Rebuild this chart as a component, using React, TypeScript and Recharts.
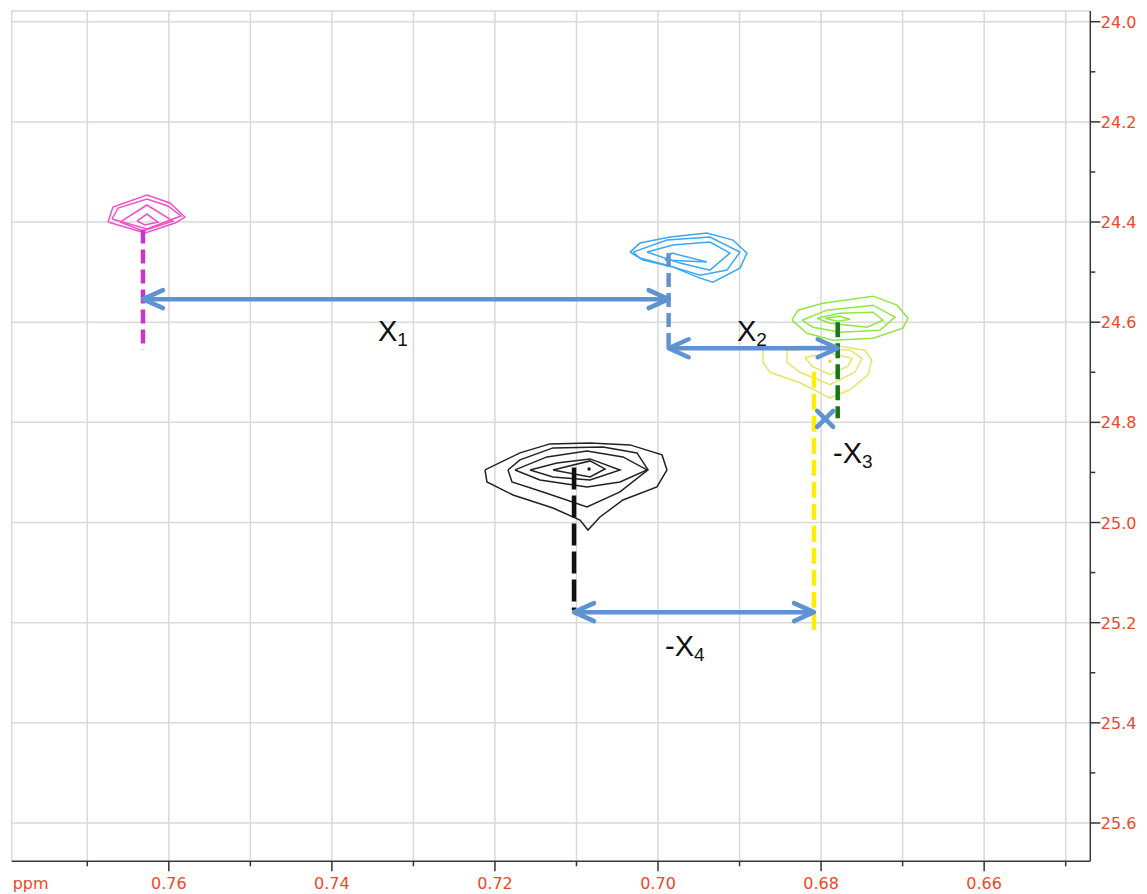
import React from 'react';
import { ComposedChart, Line, XAxis, YAxis, CartesianGrid, ReferenceLine, ReferenceDot } from 'recharts';

// ---- axes ----
const X_DOMAIN: [number, number] = [0.64698, 0.77927];
const Y_DOMAIN: [number, number] = [23.9786, 25.6765];
const X_TICKS = [0.77, 0.76, 0.75, 0.74, 0.73, 0.72, 0.71, 0.70, 0.69, 0.68, 0.67, 0.66, 0.65];
const X_LABELS = ['0.76', '0.74', '0.72', '0.70', '0.68', '0.66'];
const Y_TICKS = [24.0, 24.1, 24.2, 24.3, 24.4, 24.5, 24.6, 24.7, 24.8, 24.9, 25.0, 25.1, 25.2, 25.3, 25.4, 25.5, 25.6];
const Y_LABELS = ['24.0', '24.2', '24.4', '24.6', '24.8', '25.0', '25.2', '25.4', '25.6'];
const Y_GRID = [24.0, 24.2, 24.4, 24.6, 24.8, 25.0, 25.2, 25.4, 25.6];

// ---- contours: [ppm(F2), ppm(F1)] ----
const pink1 = [[0.76746, 24.400], [0.76685, 24.370], [0.76268, 24.346], [0.75986, 24.362], [0.75802, 24.390], [0.75924, 24.402], [0.76292, 24.422]];
const pink2 = [[0.76697, 24.394], [0.76623, 24.372], [0.76268, 24.354], [0.76010, 24.368], [0.75851, 24.388], [0.76268, 24.414]];
const pink3 = [[0.76599, 24.400], [0.76268, 24.366], [0.75949, 24.398], [0.76317, 24.418]];
const pink4 = [[0.76390, 24.398], [0.76268, 24.384], [0.76133, 24.400], [0.76292, 24.406]];

const blue1 = [[0.70344, 24.460], [0.70221, 24.442], [0.69853, 24.430], [0.69399, 24.422], [0.69081, 24.436], [0.68909, 24.462], [0.68995, 24.492], [0.69326, 24.520], [0.69485, 24.512], [0.69816, 24.490], [0.70184, 24.476]];
const blue2 = [[0.70307, 24.460], [0.69890, 24.436], [0.69363, 24.430], [0.68995, 24.460], [0.69154, 24.496], [0.69485, 24.506], [0.69890, 24.486], [0.70221, 24.472]];
const blue3 = [[0.70135, 24.460], [0.69816, 24.446], [0.69363, 24.440], [0.69117, 24.462], [0.69363, 24.496], [0.69731, 24.482]];
const blue4 = [[0.69915, 24.476], [0.69829, 24.462], [0.69399, 24.480]];

const green1 = [[0.68357, 24.596], [0.68283, 24.576], [0.67977, 24.562], [0.67363, 24.548], [0.67069, 24.566], [0.66934, 24.592], [0.66995, 24.612], [0.67363, 24.632], [0.67854, 24.636], [0.68173, 24.622]];
const green2 = [[0.68234, 24.596], [0.67928, 24.576], [0.67363, 24.566], [0.67094, 24.590], [0.67278, 24.616], [0.67768, 24.620], [0.68099, 24.610]];
const green3 = [[0.68050, 24.592], [0.67768, 24.582], [0.67363, 24.580], [0.67241, 24.596], [0.67437, 24.610], [0.67891, 24.602]];
const green4 = [[0.67952, 24.592], [0.67768, 24.588], [0.67646, 24.594], [0.67805, 24.598]];

const yellow1 = [[0.68713, 24.652], [0.68713, 24.680], [0.68627, 24.700], [0.68259, 24.721], [0.67891, 24.751], [0.67646, 24.735], [0.67425, 24.705], [0.67376, 24.676], [0.67462, 24.656], [0.67768, 24.648], [0.68259, 24.648]];
const yellow2 = [[0.68418, 24.656], [0.68418, 24.680], [0.68259, 24.700], [0.67891, 24.725], [0.67584, 24.700], [0.67498, 24.672], [0.67646, 24.656], [0.68013, 24.652]];
const yellow3 = [[0.68198, 24.670], [0.68112, 24.688], [0.67891, 24.705], [0.67670, 24.688], [0.67621, 24.672], [0.67891, 24.662]];

const black1 = [[0.72122, 24.895], [0.72098, 24.919], [0.71779, 24.945], [0.71288, 24.971], [0.70957, 24.995], [0.70859, 25.015], [0.70712, 24.989], [0.70430, 24.955], [0.70013, 24.929], [0.69890, 24.895], [0.69951, 24.865], [0.70344, 24.845], [0.70834, 24.841], [0.71325, 24.843], [0.71693, 24.861]];
const black2 = [[0.71840, 24.895], [0.71791, 24.919], [0.71411, 24.939], [0.70871, 24.969], [0.70466, 24.939], [0.70123, 24.895], [0.70258, 24.861], [0.70675, 24.849], [0.71288, 24.851], [0.71693, 24.875]];
const black3 = [[0.71754, 24.895], [0.71448, 24.915], [0.70871, 24.929], [0.70466, 24.919], [0.70135, 24.895], [0.70430, 24.869], [0.70871, 24.857], [0.71362, 24.869]];
const black4 = [[0.71570, 24.895], [0.71288, 24.909], [0.70834, 24.915], [0.70466, 24.895], [0.70834, 24.873], [0.71239, 24.881]];
const black5 = [[0.71288, 24.895], [0.70834, 24.877], [0.70650, 24.893], [0.70834, 24.909]];

const peakDots = [
  { x: 0.67891, y: 24.678, color: '#e0d850' },
  { x: 0.70846, y: 24.893, color: '#222222' },
];

// ---- guide lines (x, yStart, yEnd) ----
const guides = [
  { x: 0.76317, y1: 24.415, y2: 24.655, color: '#cc33cc', dash: '14 6' },
  { x: 0.69870, y1: 24.462, y2: 24.655, color: '#6394d0', dash: '14 6' },
  { x: 0.67796, y1: 24.600, y2: 24.792, color: '#117a11', dash: '15 6' },
  { x: 0.68087, y1: 24.699, y2: 25.225, color: '#ffee00', dash: '16 6' },
  { x: 0.71030, y1: 24.890, y2: 25.175, color: '#111111', dash: '22 6' },
];

// ---- double arrows (xStart, xEnd, y) ----
const arrows = [
  { x1: 0.76317, x2: 0.69870, y: 24.554 },
  { x1: 0.69870, x2: 0.67796, y: 24.652 },
  { x1: 0.71030, x2: 0.68087, y: 25.179 },
];
const crossMark = { x: 0.67950, y: 24.793 };

// ---- labels ----
const labels = [
  { x: 0.73434, y: 24.638, main: 'X', sub: '1' },
  { x: 0.69031, y: 24.638, main: 'X', sub: '2' },
  { x: 0.67854, y: 24.881, main: '-X', sub: '3' },
  { x: 0.69914, y: 25.267, main: '-X', sub: '4' },
];

const contours = [
  { pts: pink1, color: '#f050c8' }, { pts: pink2, color: '#f050c8' }, { pts: pink3, color: '#f050c8' }, { pts: pink4, color: '#f050c8' },
  { pts: blue1, color: '#3aa8f5' }, { pts: blue2, color: '#3aa8f5' }, { pts: blue3, color: '#3aa8f5' }, { pts: blue4, color: '#3aa8f5' },
  { pts: yellow1, color: '#e8e46a' }, { pts: yellow2, color: '#e8e46a' }, { pts: yellow3, color: '#e8e46a' },
  { pts: green1, color: '#8ee840' }, { pts: green2, color: '#8ee840' }, { pts: green3, color: '#8ee840' }, { pts: green4, color: '#8ee840' },
  { pts: black1, color: '#222222' }, { pts: black2, color: '#222222' }, { pts: black3, color: '#222222' }, { pts: black4, color: '#222222' }, { pts: black5, color: '#222222' },
];

const toData = (pts: number[][]) => {
  const d = pts.map(([x, y]) => ({ x, y }));
  d.push({ x: pts[0][0], y: pts[0][1] });
  return d;
};

const LABEL_COLOR = '#f0472a';
const AXIS_FONT = '"DejaVu Sans", sans-serif';
const ARROW_COLOR = '#5f92d0';

const XTick = (props: any) => {
  const { x, y, payload } = props;
  const txt = Number(payload.value).toFixed(2);
  const major = X_LABELS.includes(txt);
  return (
    <g>
      <line x1={x} y1={y} x2={x} y2={y + (major ? 10 : 5)} stroke="#333" strokeWidth={1.5} />
      {major && (
        <text x={x} y={y + 28} textAnchor="middle" fill={LABEL_COLOR} fontSize={16} fontFamily={AXIS_FONT}>{txt}</text>
      )}
    </g>
  );
};

const YTick = (props: any) => {
  const { x, y, payload } = props;
  const txt = Number(payload.value).toFixed(1);
  const major = Y_LABELS.includes(txt);
  return (
    <g>
      <line x1={x} y1={y} x2={x + (major ? 10 : 5)} y2={y} stroke="#333" strokeWidth={1.5} />
      {major && (
        <text x={x + 10.5} y={y + 6} textAnchor="start" fill={LABEL_COLOR} fontSize={16} fontFamily={AXIS_FONT}>{txt}</text>
      )}
    </g>
  );
};

const ArrowShape = (props: any) => {
  const { x1, y1, x2, y2 } = props;
  const dx = x2 - x1;
  const dy = y2 - y1;
  const len = Math.sqrt(dx * dx + dy * dy) || 1;
  const ux = dx / len;
  const uy = dy / len;
  const hl = 20;
  const hw = 9;
  const head = (tx: number, ty: number, dir: number) => {
    const bx = tx - dir * ux * hl;
    const by = ty - dir * uy * hl;
    return `M${bx - uy * hw},${by + ux * hw} L${tx},${ty} L${bx + uy * hw},${by - ux * hw}`;
  };
  return (
    <g>
      <line x1={x1} y1={y1} x2={x2} y2={y2} stroke={ARROW_COLOR} strokeWidth={4.5} />
      <path d={head(x2, y2, 1)} fill="none" stroke={ARROW_COLOR} strokeWidth={4.5} strokeLinecap="round" strokeLinejoin="round" />
      <path d={head(x1, y1, -1)} fill="none" stroke={ARROW_COLOR} strokeWidth={4.5} strokeLinecap="round" strokeLinejoin="round" />
    </g>
  );
};

const CrossShape = (props: any) => {
  const { cx, cy } = props;
  const s = 8;
  return (
    <g stroke={ARROW_COLOR} strokeWidth={4.5} strokeLinecap="round">
      <line x1={cx - s} y1={cy - s} x2={cx + s} y2={cy + s} />
      <line x1={cx - s} y1={cy + s} x2={cx + s} y2={cy - s} />
    </g>
  );
};

const makeLabelShape = (main: string, sub: string) => (props: any) => {
  const { cx, cy } = props;
  return (
    <text x={cx} y={cy} fill="#111" fontFamily='"Liberation Sans", Arial, sans-serif' fontSize={29}>
      {main}
      <tspan fontSize={19} dy={5}>{sub}</tspan>
    </text>
  );
};

export default function App() {
  return (
    <div style={{ position: 'absolute', left: 0, top: 0 }}>
      <ComposedChart
        width={1147}
        height={894}
        margin={{ top: 11, left: 11.7, right: 6.7, bottom: 2.7 }}
      >
        <CartesianGrid
          stroke="#d9d9d9"
          strokeWidth={1.5}
          verticalValues={X_TICKS}
          horizontalValues={Y_GRID}
        />
        <XAxis
          dataKey="x"
          type="number"
          domain={X_DOMAIN}
          allowDataOverflow
          reversed
          ticks={X_TICKS}
          interval={0}
          tick={<XTick />}
          tickLine={false}
          tickSize={0}
          tickMargin={0}
          height={30}
          axisLine={{ stroke: '#3a3a3a', strokeWidth: 1.5 }}
          label={{
            content: (p: any) => (
              <text x={p.viewBox.x + 1} y={p.viewBox.y + 28} fill={LABEL_COLOR} fontSize={16} fontFamily={AXIS_FONT}>ppm</text>
            ),
          }}
        />
        <YAxis
          dataKey="y"
          type="number"
          orientation="right"
          domain={Y_DOMAIN}
          allowDataOverflow
          reversed
          ticks={Y_TICKS}
          interval={0}
          tick={<YTick />}
          tickLine={false}
          tickSize={0}
          tickMargin={0}
          width={50}
          axisLine={{ stroke: '#3a3a3a', strokeWidth: 1.5 }}
        />
        <ReferenceLine y={Y_DOMAIN[0]} stroke="#d9d9d9" strokeWidth={1.5} />
        <ReferenceLine x={X_DOMAIN[1]} stroke="#d9d9d9" strokeWidth={1.5} />

        {contours.map((c, i) => (
          <Line
            key={'c' + i}
            data={toData(c.pts)}
            dataKey="y"
            type="linear"
            stroke={c.color}
            strokeWidth={1.5}
            dot={false}
            activeDot={false}
            isAnimationActive={false}
          />
        ))}

        {peakDots.map((p, i) => (
          <ReferenceDot key={'pd' + i} x={p.x} y={p.y} r={1.8} fill={p.color} stroke="none" />
        ))}

        {guides.map((g, i) => (
          <ReferenceLine
            key={'g' + i}
            segment={[{ x: g.x, y: g.y1 }, { x: g.x, y: g.y2 }]}
            stroke={g.color}
            strokeWidth={4.5}
            strokeDasharray={g.dash}
            ifOverflow="visible"
          />
        ))}

        {arrows.map((a, i) => (
          <ReferenceLine
            key={'a' + i}
            segment={[{ x: a.x1, y: a.y }, { x: a.x2, y: a.y }]}
            shape={ArrowShape}
            ifOverflow="visible"
          />
        ))}

        <ReferenceDot x={crossMark.x} y={crossMark.y} r={8} shape={CrossShape} ifOverflow="visible" />

        {labels.map((l, i) => (
          <ReferenceDot key={'l' + i} x={l.x} y={l.y} r={1} shape={makeLabelShape(l.main, l.sub)} ifOverflow="visible" />
        ))}
      </ComposedChart>
    </div>
  );
}
